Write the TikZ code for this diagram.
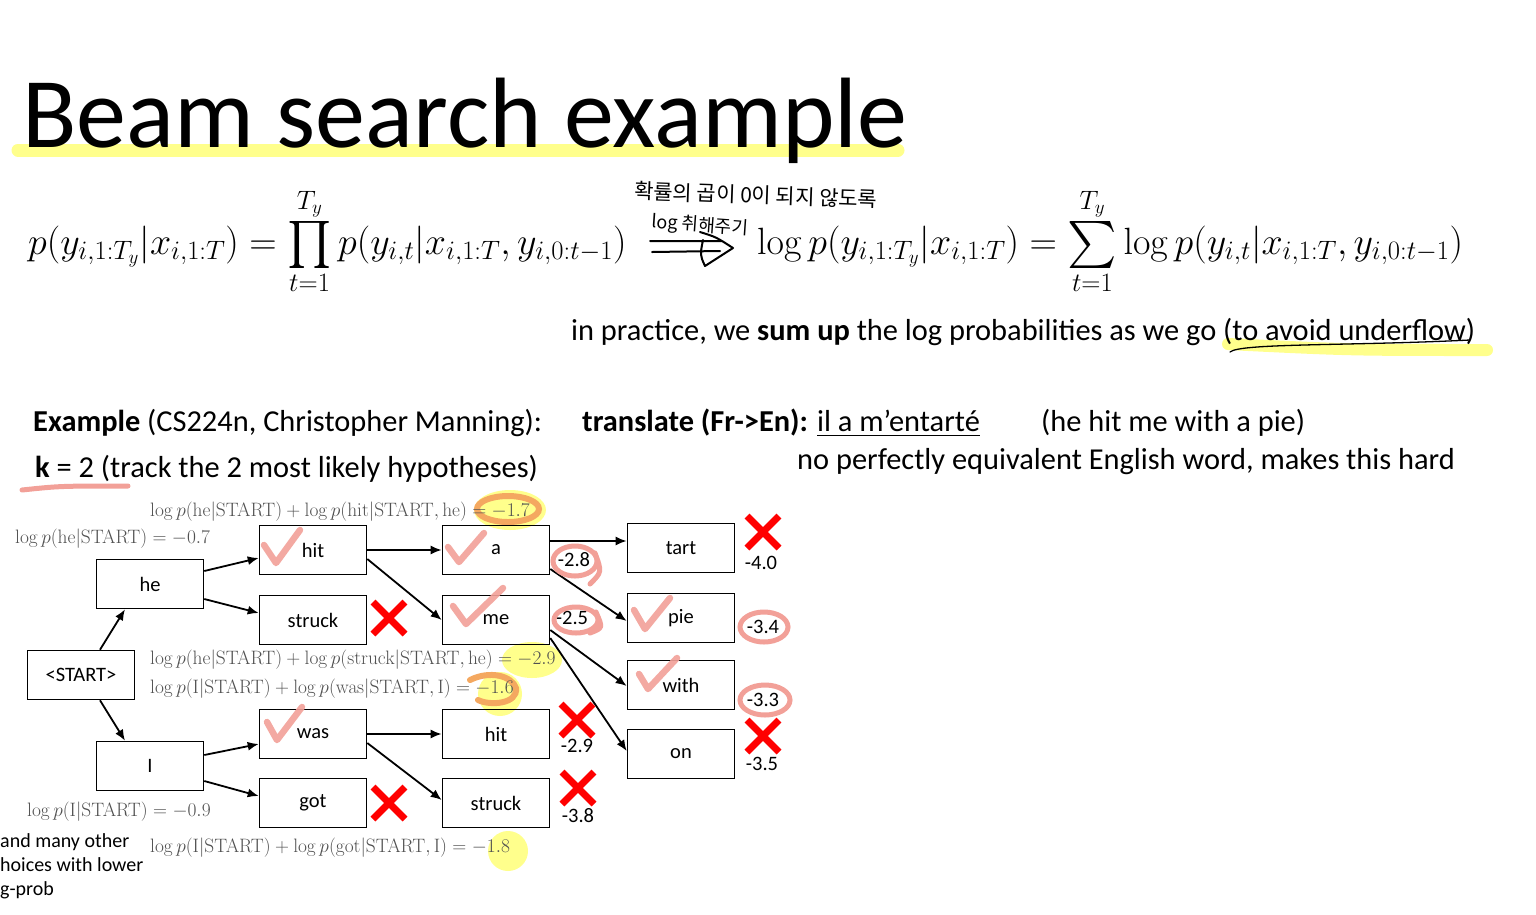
\RequirePackage{fix-cm}
\documentclass[tikz,border=0pt]{standalone}
\usepackage{amsmath}
\usepackage{exscale}
\DeclareFontShape{OMX}{cmex}{m}{n}{<-> cmex10}{}
\usepackage[no-math]{fontspec}
\setmainfont{Carlito}
\newfontfamily\kor{Noto Sans CJK KR}
\usetikzlibrary{arrows.meta}
\newcommand\myBigOp[1]{\mathop{\vcenter{\hbox{\fontsize{47}{47}\selectfont$\textstyle#1$}}}\limits}
\definecolor{hlyellow}{RGB}{255,255,140}
\definecolor{pinkmark}{RGB}{242,160,152}
\definecolor{orangemark}{RGB}{244,168,96}
\definecolor{xred}{RGB}{255,0,0}
\definecolor{lbl}{RGB}{80,80,80}
\begin{document}
\begin{tikzpicture}[x=1pt,y=-1pt,
  wbox/.style={draw, line width=1.6pt, minimum width=107pt, minimum height=49pt, inner sep=0pt, font=\fontsize{20.5}{22}\selectfont},
  arr/.style={line width=1.8pt, -{Latex[length=11pt,width=9pt]}},
  lg/.style={anchor=base west, inner sep=0pt, text=lbl, font=\fontsize{19.4}{21}\selectfont},
  sc/.style={inner sep=0pt, font=\fontsize{20.5}{22}\selectfont},
  body/.style={anchor=base west, inner sep=0pt, font=\fontsize{30.4}{33}\selectfont},
  chk/.style={pinkmark, opacity=0.9, line width=6.5pt, line cap=round, line join=round},
  circ/.style={pinkmark, line width=5pt, line cap=round},
  redx/.pic={\draw[xred, line width=7pt] (-16,-16) -- (16,16) (-16,16) -- (16,-16);},
]
\useasboundingbox (0,0) rectangle (1536,914);
\clip (0,0) rectangle (1536,914);
% ---------- highlights (under text)
\draw[hlyellow, line width=13pt, line cap=round] (18,150) -- (898,150);
\draw[hlyellow, line width=12pt, line cap=round] (1228,344) .. controls (1350,350) .. (1487,350);
\fill[hlyellow] (510,510) ellipse [x radius=36, y radius=20];
\fill[hlyellow] (532,660) ellipse [x radius=30, y radius=18];
\fill[hlyellow] (500,694) ellipse [x radius=22, y radius=22];
\fill[hlyellow] (508,851) ellipse [x radius=20, y radius=20];
\draw[orangemark, line width=6pt] (508,509) ellipse [x radius=31, y radius=13];
\draw[orangemark, line width=6pt, line cap=round] (470,680) .. controls (490,670) and (512,676) .. (516,688) .. controls (518,704) and (490,706) .. (478,700);
% ---------- title
\node[anchor=base west, inner sep=0pt, font=\fontsize{100}{106}\selectfont] (title) at (22,147) {Beam search example};
% ---------- equations
\node[anchor=base west, inner sep=0pt, font=\fontsize{38}{40}\selectfont] (eq1) at (28,254)
  {$\displaystyle p(y_{i,1:T_y}|x_{i,1:T}) = \myBigOp{\prod}_{t=1}^{T_y} p(y_{i,t}|x_{i,1:T}, y_{i,0:t-1})$};
\node[anchor=base west, inner sep=0pt, font=\fontsize{38}{40}\selectfont] (eq2) at (757,254)
  {$\displaystyle \log p(y_{i,1:T_y}|x_{i,1:T}) = \myBigOp{\sum}_{t=1}^{T_y} \log p(y_{i,t}|x_{i,1:T}, y_{i,0:t-1})$};
% handwritten note
\node[inner sep=0pt, font=\kor\fontsize{21}{23}\selectfont, rotate=-2] (note1) at (756,195) {확률의 곱이 0이 되지 않도록};
\node[inner sep=0pt, font=\kor\fontsize{18}{20}\selectfont, rotate=-4] (note2) at (700,226) {log 취해주기};
\draw[line width=2pt, line cap=round, line join=round] (650,241) -- (722,241) (652,252) -- (720,251)
  (700,232) .. controls (716,237) .. (733,248) -- (705,266) .. controls (700,255) .. (703,240);
% ---------- body text
\node[body] (prac) at (571,340) {in practice, we \textbf{sum up} the log probabilities as we go (to avoid underflow)};
\draw[line width=1.3pt, line cap=round] (1230,352) .. controls (1240,343) and (1350,346) .. (1470,340);
\node[body] (ex) at (33,431) {\textbf{Example} (CS224n, Christopher Manning):};
\node[body] (k) at (35,477) {\textbf{k} = 2 (track the 2 most likely hypotheses)};
\draw[pinkmark, line width=5pt, line cap=round] (22,490) .. controls (60,486) .. (128,486);
\node[body] (tr) at (582,431) {\textbf{translate (Fr->En):} \underline{il a m’entarté}};
\node[body] (pie) at (1041,431) {(he hit me with a pie)};
\node[body] (nope) at (797,469) {no perfectly equivalent English word, makes this hard};
% ---------- boxes
\node[wbox] (start) at (81,675) {<START>};
\node[wbox] (he) at (150,584) {he};
\node[wbox] (I) at (150,766) {I};
\node[wbox] (hit) at (313,550) {hit};
\node[wbox] (struck) at (313,620) {struck};
\node[wbox] (was) at (313,734) {was};
\node[wbox] (got) at (313,803) {got};
\node[wbox] (a) at (496,550) {a};
\node[wbox] (me) at (496,620) {me};
\node[wbox] (hitb) at (496,734) {hit};
\node[wbox] (struckb) at (496,803) {struck};
\node[wbox] (tart) at (681,548) {tart};
\node[wbox] (pieb) at (681,618) {pie};
\node[wbox] (with) at (681,685) {with};
\node[wbox] (on) at (681,754) {on};
% ---------- arrows (yshift: positive = up)
\draw[arr] ([xshift=19pt]start.north) -- ([xshift=-25pt]he.south);
\draw[arr] ([xshift=19pt]start.south) -- ([xshift=-25pt]I.north);
\draw[arr] ([yshift=13pt]he.east) -- ([yshift=-8pt]hit.west);
\draw[arr] ([yshift=-15pt]he.east) -- ([yshift=7pt]struck.west);
\draw[arr] ([yshift=11pt]I.east) -- ([yshift=-10pt]was.west);
\draw[arr] ([yshift=-15pt]I.east) -- ([yshift=7pt]got.west);
\draw[arr] (hit.east) -- (a.west);
\draw[arr] ([yshift=-9pt]hit.east) -- (me.west);
\draw[arr] (was.east) -- (hitb.west);
\draw[arr] ([yshift=-9pt]was.east) -- ([yshift=3pt]struckb.west);
\draw[arr] ([yshift=9pt]a.east) -- ([yshift=7pt]tart.west);
\draw[arr] ([yshift=-19pt]a.east) -- ([yshift=-3pt]pieb.west);
\draw[arr] ([yshift=-10pt]me.east) -- ([yshift=-1pt]with.west);
\draw[arr] ([yshift=-18pt]me.east) -- ([yshift=3pt]on.west);
% ---------- log labels
\node[lg] (l1) at (15,543) {$\log p(\mathrm{he}|\mathrm{START}) = -0.7$};
\node[lg] (l2) at (150,516) {$\log p(\mathrm{he}|\mathrm{START}) + \log p(\mathrm{hit}|\mathrm{START},\mathrm{he}) = -1.7$};
\node[lg] (l3) at (150,664) {$\log p(\mathrm{he}|\mathrm{START}) + \log p(\mathrm{struck}|\mathrm{START},\mathrm{he}) = -2.9$};
\node[lg] (l4) at (150,693) {$\log p(\mathrm{I}|\mathrm{START}) + \log p(\mathrm{was}|\mathrm{START},\mathrm{I}) = -1.6$};
\node[lg] (l5) at (27,816) {$\log p(\mathrm{I}|\mathrm{START}) = -0.9$};
\node[lg] (l6) at (150,852) {$\log p(\mathrm{I}|\mathrm{START}) + \log p(\mathrm{got}|\mathrm{START},\mathrm{I}) = -1.8$};
% ---------- left note
\node[anchor=base west, inner sep=0pt, font=\fontsize{20}{22}\selectfont] (m1) at (0,847) {and many other};
\node[anchor=base west, inner sep=0pt, font=\fontsize{20}{22}\selectfont] (m2) at (0,871) {hoices with lower};
\node[anchor=base west, inner sep=0pt, font=\fontsize{20}{22}\selectfont] (m3) at (0,895) {g-prob};
% ---------- scores
\node[sc] (s1) at (574,560) {-2.8};
\node[sc] (s2) at (572,618) {-2.5};
\node[sc] (s3) at (761,563) {-4.0};
\node[sc] (s4) at (763,627) {-3.4};
\node[sc] (s5) at (763,700) {-3.3};
\node[sc] (s6) at (577,746) {-2.9};
\node[sc] (s7) at (578,816) {-3.8};
\node[sc] (s8) at (762,764) {-3.5};
% ---------- pink loops
\draw[circ] (575,561) ellipse [x radius=22, y radius=15];
\draw[circ] (595,553) .. controls (602,572) .. (590,584);
\draw[circ] (576,620) ellipse [x radius=22, y radius=13];
\draw[circ] (596,612) .. controls (603,628) .. (590,633);
\draw[circ] (764,627) ellipse [x radius=24, y radius=15];
\draw[circ] (765,700) ellipse [x radius=25, y radius=15];
% ---------- red crosses
\pic at (389,618) {redx};
\pic at (389,803) {redx};
\pic at (577,720) {redx};
\pic at (578,788) {redx};
\pic at (763,532) {redx};
\pic at (763,736) {redx};
% ---------- check marks
\draw[chk] (264,545) -- (276,563) -- (300,530);
\draw[chk] (448,547) -- (459,562) -- (484,533);
\draw[chk] (453,606) -- (466,624) -- (503,588);
\draw[chk] (634,610) -- (645,629) -- (670,598);
\draw[chk] (639,674) -- (648,689) -- (677,658);
\draw[chk] (267,722) -- (277,740) -- (302,707);
\end{tikzpicture}
\end{document}
